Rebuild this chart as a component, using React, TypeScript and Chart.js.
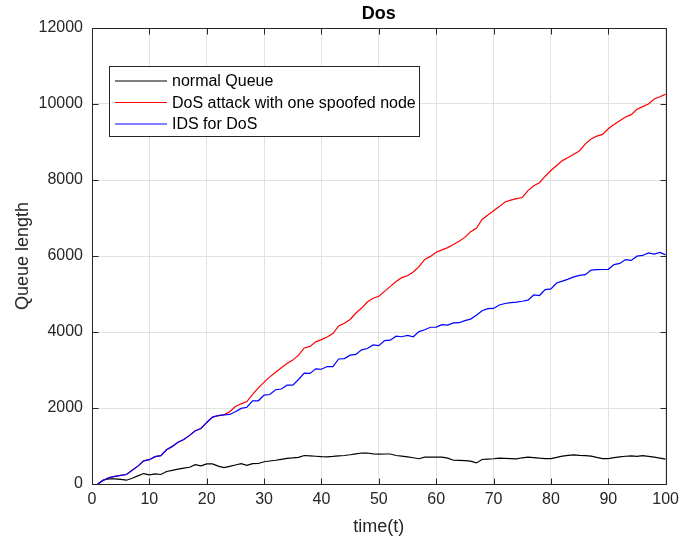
import { useEffect, useRef } from "react";
import { Chart, registerables } from "chart.js";

Chart.register(...registerables);

const chartTitle = "Dos";
const xTitle = "time(t)";
const yTitle = "Queue length";

const timeSteps = [
  1, 2, 3, 4, 5, 6, 7, 8, 9, 10,
  11, 12, 13, 14, 15, 16, 17, 18, 19, 20,
  21, 22, 23, 24, 25, 26, 27, 28, 29, 30,
  31, 32, 33, 34, 35, 36, 37, 38, 39, 40,
  41, 42, 43, 44, 45, 46, 47, 48, 49, 50,
  51, 52, 53, 54, 55, 56, 57, 58, 59, 60,
  61, 62, 63, 64, 65, 66, 67, 68, 69, 70,
  71, 72, 73, 74, 75, 76, 77, 78, 79, 80,
  81, 82, 83, 84, 85, 86, 87, 88, 89, 90,
  91, 92, 93, 94, 95, 96, 97, 98, 99, 100,
];

const normalQueue = [
  0, 110, 135, 135, 120, 100, 150, 215, 275, 240,
  265, 250, 330, 360, 390, 420, 440, 510, 480, 530,
  530, 470, 430, 465, 500, 535, 490, 535, 540, 585,
  605, 625, 650, 675, 685, 700, 750, 740, 730, 720,
  715, 725, 740, 750, 770, 795, 815, 815, 795, 785,
  790, 790, 750, 735, 715, 690, 665, 705, 705, 705,
  705, 680, 625, 620, 615, 600, 555, 645, 655, 665,
  680, 675, 670, 662, 690, 705, 695, 680, 670, 670,
  700, 735, 755, 765, 752, 745, 735, 700, 670, 670,
  695, 715, 730, 740, 725, 748, 725, 705, 680, 655,
];

const dosAttack = [
  0, 100, 170, 200, 225, 250, 360, 470, 610, 640,
  720, 745, 900, 990, 1100, 1170, 1280, 1400, 1460, 1620,
  1760, 1800, 1820, 1900, 2040, 2110, 2170, 2360, 2530, 2680,
  2820, 2940, 3060, 3170, 3260, 3390, 3580, 3620, 3740, 3800,
  3870, 3960, 4160, 4230, 4330, 4500, 4630, 4790, 4890, 4940,
  5070, 5200, 5330, 5430, 5480, 5580, 5720, 5910, 5990, 6100,
  6160, 6220, 6300, 6390, 6490, 6640, 6730, 6960, 7080, 7190,
  7300, 7420, 7470, 7510, 7540, 7720, 7850, 7930, 8100, 8250,
  8380, 8510, 8590, 8680, 8770, 8950, 9080, 9155, 9200, 9350,
  9460, 9560, 9660, 9720, 9860, 9930, 10000, 10130, 10190, 10260,
];

const idsForDos = [
  0, 100, 170, 200, 225, 250, 360, 470, 610, 640,
  720, 745, 900, 990, 1100, 1170, 1280, 1400, 1460, 1620,
  1760, 1800, 1820, 1830, 1900, 1990, 2020, 2190, 2190, 2340,
  2355, 2480, 2500, 2600, 2600, 2750, 2920, 2910, 3030, 3020,
  3090, 3090, 3290, 3300, 3390, 3410, 3530, 3565, 3660, 3640,
  3775, 3785, 3890, 3875, 3910, 3875, 4010, 4060, 4125, 4130,
  4195, 4180, 4240, 4245, 4300, 4340, 4440, 4560, 4615, 4620,
  4710, 4750, 4775, 4785, 4810, 4840, 4975, 4960, 5115, 5135,
  5290, 5340, 5390, 5450, 5490, 5510, 5630, 5640, 5645, 5650,
  5775, 5805, 5905, 5885, 5995, 6015, 6080, 6050, 6095, 6030,
];

const seriesLabels = ["normal Queue", "DoS attack with one spoofed node", "IDS for DoS"];
const seriesColors = ["#000000", "#ff0000", "#0000ff"];
const seriesValues = [normalQueue, dosAttack, idsForDos];

const xTicksMin = 0;
const xTicksMax = 100;
const xTickStep = 10;
const yTicksMin = 0;
const yTicksMax = 12000;
const yTickStep = 2000;

const FONT = '"Liberation Sans", Arial, Helvetica, sans-serif';
const AXIS_COLOR = "#262626";

// Box, inward tick marks, titles and the boxed legend drawn over the plot.
const figurePlugin = {
  id: "figureDecor",
  afterDatasetsDraw(chart: any) {
    const { ctx, chartArea } = chart;
    const { left, right, top, bottom } = chartArea;
    const xs = chart.scales.x;
    const ys = chart.scales.y;
    ctx.save();
    ctx.strokeStyle = AXIS_COLOR;
    ctx.lineWidth = 1;
    const L = Math.round(left) + 0.5;
    const R = Math.round(right) + 0.5;
    const T = Math.round(top) + 0.5;
    const B = Math.round(bottom) + 0.5;
    ctx.beginPath();
    ctx.rect(L, T, R - L, B - T);
    ctx.stroke();
    const tl = 6;
    ctx.beginPath();
    for (let v = xTicksMin; v <= xTicksMax; v += xTickStep) {
      const px = Math.round(xs.getPixelForValue(v)) + 0.5;
      ctx.moveTo(px, B);
      ctx.lineTo(px, B - tl);
      ctx.moveTo(px, T);
      ctx.lineTo(px, T + tl);
    }
    for (let v = yTicksMin; v <= yTicksMax; v += yTickStep) {
      const py = Math.round(ys.getPixelForValue(v)) + 0.5;
      ctx.moveTo(L, py);
      ctx.lineTo(L + tl, py);
      ctx.moveTo(R, py);
      ctx.lineTo(R - tl, py);
    }
    ctx.stroke();

    // titles
    const cx = (left + right) / 2;
    ctx.fillStyle = "#000000";
    ctx.font = `bold 18px ${FONT}`;
    ctx.textAlign = "center";
    ctx.textBaseline = "middle";
    ctx.fillText(chartTitle, cx, 14);
    ctx.fillStyle = AXIS_COLOR;
    ctx.font = `18px ${FONT}`;
    ctx.fillText(xTitle, cx, 527);
    ctx.save();
    ctx.translate(23, (top + bottom) / 2);
    ctx.rotate(-Math.PI / 2);
    ctx.fillText(yTitle, 0, 0);
    ctx.restore();

    // legend
    const bx = 109.5;
    const by = 66.5;
    const bw = 310;
    const bh = 70;
    ctx.fillStyle = "#ffffff";
    ctx.fillRect(bx, by, bw, bh);
    ctx.strokeStyle = AXIS_COLOR;
    ctx.strokeRect(bx, by, bw, bh);
    const rowY = [81, 102.5, 124];
    ctx.font = `16px ${FONT}`;
    ctx.textAlign = "left";
    ctx.textBaseline = "middle";
    seriesLabels.forEach((label, i) => {
      ctx.strokeStyle = seriesColors[i];
      ctx.lineWidth = 1.2;
      ctx.beginPath();
      ctx.moveTo(115, rowY[i]);
      ctx.lineTo(167, rowY[i]);
      ctx.stroke();
      ctx.fillStyle = "#000000";
      ctx.fillText(label, 172, rowY[i] + 1);
    });
    ctx.restore();
  },
};

export default function App() {
  const canvasRef = useRef<HTMLCanvasElement | null>(null);

  useEffect(() => {
    if (!canvasRef.current) return;
    const datasets = seriesValues.map((values, i) => ({
      label: seriesLabels[i],
      data: values.map((v, j) => ({ x: timeSteps[j], y: v })),
      borderColor: seriesColors[i],
      backgroundColor: seriesColors[i],
      borderWidth: 1.2,
      pointRadius: 0,
      tension: 0,
      fill: false,
      order: 2 - i,
    }));
    const chart = new Chart(canvasRef.current, {
      type: "line",
      data: { datasets },
      options: {
        animation: false,
        responsive: false,
        maintainAspectRatio: false,
        layout: { padding: { top: 28, right: 17, left: 0, bottom: 0 } },
        plugins: {
          legend: { display: false },
          title: { display: false },
          tooltip: { enabled: false },
        },
        scales: {
          x: {
            type: "linear",
            min: xTicksMin,
            max: xTicksMax,
            afterFit: (scale: any) => {
              scale.height = 62;
            },
            ticks: {
              stepSize: xTickStep,
              color: AXIS_COLOR,
              font: { family: FONT, size: 16 },
              padding: 6,
              maxRotation: 0,
              callback: (value: any) => String(value),
            },
            grid: { color: "#e2e2e2", lineWidth: 1, drawTicks: false },
            border: { display: false },
          },
          y: {
            type: "linear",
            min: yTicksMin,
            max: yTicksMax,
            afterFit: (scale: any) => {
              scale.width = 92;
            },
            ticks: {
              stepSize: yTickStep,
              color: AXIS_COLOR,
              font: { family: FONT, size: 16 },
              padding: 9,
              callback: (value: any) => String(value),
            },
            grid: { color: "#e2e2e2", lineWidth: 1, drawTicks: false },
            border: { display: false },
          },
        },
      },
      plugins: [figurePlugin],
    });
    return () => chart.destroy();
  }, []);

  return (
    <div style={{ position: "absolute", left: 0, top: 0, width: 685, height: 546, background: "#ffffff" }}>
      <canvas ref={canvasRef} width={685} height={546} style={{ display: "block" }} />
    </div>
  );
}
